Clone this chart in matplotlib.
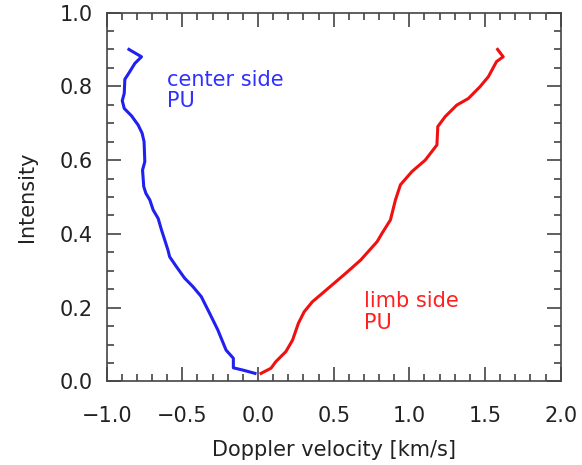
import numpy as np
import matplotlib
matplotlib.use('Agg')
import matplotlib.pyplot as plt
from matplotlib.ticker import MultipleLocator

# center side PU (blue)
center_v = [-0.853, -0.770, -0.814, -0.847, -0.880, -0.884, -0.897, -0.884, -0.836, -0.792,
            -0.766, -0.753, -0.748, -0.763, -0.755, -0.741, -0.715, -0.693, -0.660, -0.638,
            -0.616, -0.595, -0.584, -0.539, -0.485, -0.430, -0.375, -0.320, -0.266, -0.211,
            -0.163, -0.163, -0.101, -0.020]
center_i = [0.900, 0.880, 0.862, 0.840, 0.819, 0.781, 0.761, 0.740, 0.720, 0.695,
            0.673, 0.650, 0.596, 0.573, 0.528, 0.510, 0.492, 0.465, 0.442, 0.411,
            0.383, 0.356, 0.338, 0.311, 0.280, 0.257, 0.230, 0.185, 0.140, 0.085,
            0.063, 0.037, 0.031, 0.022]

# limb side PU (red)
limb_v = [0.020, 0.086, 0.118, 0.184, 0.228, 0.267, 0.305, 0.359, 0.425, 0.502,
          0.579, 0.678, 0.787, 0.820, 0.875, 0.908, 0.941, 1.017, 1.105, 1.182,
          1.188, 1.237, 1.313, 1.390, 1.467, 1.522, 1.576, 1.620, 1.583]
limb_i = [0.022, 0.036, 0.054, 0.081, 0.112, 0.158, 0.189, 0.216, 0.239, 0.266,
          0.293, 0.329, 0.379, 0.402, 0.438, 0.492, 0.533, 0.569, 0.600, 0.641,
          0.691, 0.718, 0.749, 0.767, 0.799, 0.826, 0.867, 0.880, 0.900]

txt = '#222222'
fs = 15

fig = plt.figure(figsize=(5.82, 4.65), dpi=100)
ax = fig.add_axes([0.1833, 0.1796, 0.7801, 0.7935])

ax.plot(center_v, center_i, color='#2020f0', lw=2.2)
ax.plot(limb_v, limb_i, color='#f01010', lw=2.2)

ax.text(-0.60, 0.845, 'center side\nPU', color='#3030ff', fontsize=fs, va='top',
        linespacing=1.1)
ax.text(0.70, 0.245, 'limb side\nPU', color='#ff2020', fontsize=fs, va='top',
        linespacing=1.1)

ax.set_xlim(-1.0, 2.0)
ax.set_ylim(0.0, 1.0)
ax.xaxis.set_major_locator(MultipleLocator(0.5))
ax.xaxis.set_minor_locator(MultipleLocator(0.1))
ax.yaxis.set_major_locator(MultipleLocator(0.2))
ax.yaxis.set_minor_locator(MultipleLocator(0.05))
ax.xaxis.set_major_formatter(plt.FuncFormatter(lambda v, p: f'{v:.1f}'.replace('-', '\u2212')))
ax.yaxis.set_major_formatter(plt.FuncFormatter(lambda v, p: f'{v:.1f}'))
ax.tick_params(which='both', direction='in', top=True, right=True, colors='#444444',
               labelcolor=txt, labelsize=fs, width=1.2)
ax.tick_params(which='major', length=10)
ax.tick_params(axis='x', which='major', pad=18)
ax.tick_params(axis='y', which='major', pad=10)
ax.tick_params(which='minor', length=5)
for s in ax.spines.values():
    s.set_color('#444444')
    s.set_linewidth(1.2)

ax.set_xlabel('Doppler velocity [km/s]', fontsize=fs, color=txt, labelpad=10)
ax.set_ylabel('Intensity', fontsize=fs, color=txt, labelpad=16)

fig.savefig('out.png', dpi=100)
